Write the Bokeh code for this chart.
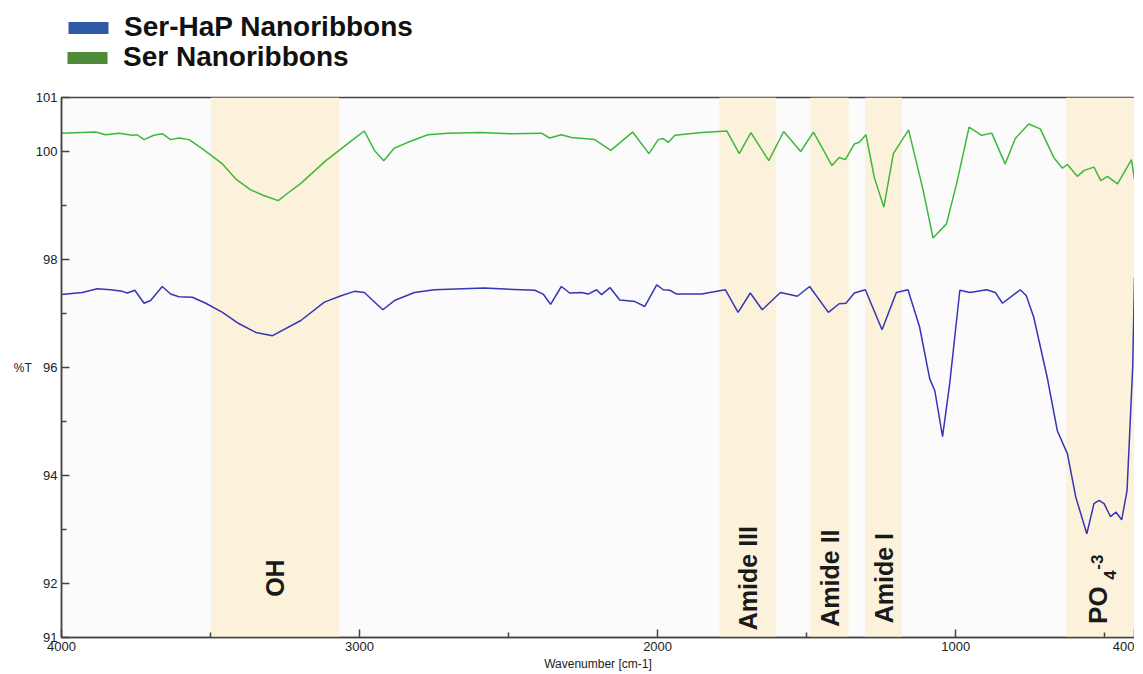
import numpy as np
from bokeh.plotting import figure
from bokeh.layouts import column
from bokeh.models import (Range1d, FixedTicker, BoxAnnotation, Legend, LegendItem,
                          ColumnDataSource)
from bokeh.embed import file_html
from bokeh.resources import INLINE
from bokeh.core.properties import value

# ---------------- data ----------------
ser_wn = [4000, 3886, 3852, 3807, 3762, 3746, 3723, 3690, 3662, 3634, 3606, 3572, 3527,
          3460, 3415, 3365, 3324, 3273, 3236, 3197, 3113, 3062, 3018, 2984, 2950, 2919,
          2884, 2838, 2771, 2704, 2592, 2491, 2390, 2362, 2323, 2289, 2211, 2157, 2084,
          2029, 1998, 1981, 1964, 1942, 1852, 1768, 1726, 1687, 1627, 1577, 1520, 1477,
          1415, 1391, 1370, 1340, 1323, 1301, 1273, 1241, 1209, 1158, 1109, 1076, 1031,
          997, 955, 913, 879, 834, 800, 755, 716, 671, 642, 625, 592, 569, 536, 513, 491,
          457, 410, 400]
ser_t = [100.34, 100.36, 100.31, 100.34, 100.30, 100.31, 100.22, 100.30, 100.33, 100.22,
         100.25, 100.22, 100.05, 99.77, 99.49, 99.29, 99.19, 99.09, 99.25, 99.41, 99.83,
         100.05, 100.24, 100.38, 100.02, 99.83, 100.06, 100.17, 100.31, 100.34, 100.35,
         100.33, 100.34, 100.25, 100.31, 100.26, 100.22, 100.02, 100.36, 99.96, 100.22,
         100.24, 100.17, 100.30, 100.35, 100.38, 99.96, 100.35, 99.83, 100.37, 100.00,
         100.36, 99.74, 99.89, 99.85, 100.14, 100.17, 100.31, 99.52, 98.97, 99.96, 100.40,
         99.28, 98.40, 98.66, 99.40, 100.45, 100.30, 100.34, 99.77, 100.24, 100.51, 100.42,
         99.89, 99.69, 99.76, 99.54, 99.65, 99.71, 99.46, 99.54, 99.40, 99.85, 99.48]

hap_wn = [4000, 3930, 3880, 3835, 3796, 3779, 3754, 3723, 3701, 3662, 3634, 3606, 3561,
          3516, 3460, 3404, 3348, 3292, 3197, 3118, 3062, 3017, 2984, 2922, 2883, 2816,
          2749, 2581, 2412, 2384, 2359, 2323, 2295, 2255, 2233, 2205, 2188, 2160, 2127,
          2076, 2043, 2003, 1981, 1959, 1936, 1852, 1773, 1730, 1689, 1649, 1588, 1531,
          1490, 1427, 1391, 1368, 1340, 1303, 1247, 1199, 1160, 1121, 1087, 1070, 1044,
          1020, 986, 952, 896, 867, 843, 783, 763, 738, 693, 659, 625, 597, 560, 536, 519,
          502, 481, 462, 443, 425, 406, 400]
hap_t = [97.35, 97.39, 97.46, 97.44, 97.41, 97.38, 97.43, 97.19, 97.24, 97.50, 97.36,
         97.31, 97.30, 97.19, 97.02, 96.81, 96.65, 96.59, 96.87, 97.21, 97.33, 97.41,
         97.39, 97.07, 97.24, 97.39, 97.44, 97.47, 97.43, 97.36, 97.17, 97.50, 97.38,
         97.39, 97.36, 97.44, 97.35, 97.48, 97.25, 97.22, 97.13, 97.53, 97.44, 97.43,
         97.36, 97.36, 97.44, 97.02, 97.38, 97.07, 97.39, 97.32, 97.50, 97.02, 97.18,
         97.19, 97.38, 97.44, 96.70, 97.39, 97.44, 96.75, 95.79, 95.57, 94.72, 95.70,
         97.43, 97.39, 97.44, 97.39, 97.19, 97.44, 97.33, 96.93, 95.82, 94.83, 94.40,
         93.60, 92.92, 93.48, 93.54, 93.48, 93.24, 93.32, 93.18, 93.72, 96.01, 97.67]

band_start = [3499, 1793, 1487, 1304, 629]
band_end = [3069, 1602, 1359, 1180, 400]
band_labels = ["OH", "Amide III", "Amide II", "Amide I", "PO"]

series_names = ["Ser-HaP Nanoribbons", "Ser Nanoribbons"]
legend_colors = ["#2f5aa6", "#4e8a3a"]
x_major_ticks = [4000, 3000, 2000, 1000, 400]
x_minor_ticks = [3500, 2500, 1500, 500]
y_major_ticks = [91, 92, 94, 96, 98, 100, 101]
y_minor_ticks = [93, 95, 97, 99]

W = 1134
LEG_H = 88
MAIN_H = 586

# ---------------- legend strip ----------------
lg = figure(width=W, height=LEG_H, output_backend="svg", toolbar_location=None,
            x_range=Range1d(0, 1), y_range=Range1d(0, 1), x_axis_type=None,
            y_axis_type=None, min_border=0, outline_line_color=None)
lg.grid.visible = False
lg.background_fill_color = "white"
lg.border_fill_color = "white"
leg_locs = [(2, 45), (1, 15)]
for name, col, loc in zip(series_names, legend_colors, leg_locs):
    r = lg.quad(left=[np.nan], right=[np.nan], top=[np.nan], bottom=[np.nan],
                fill_color=col, line_color=None)
    lg.add_layout(Legend(items=[LegendItem(label=name, renderers=[r])],
                         location=loc, orientation="vertical",
                         glyph_width=50, glyph_height=15, label_standoff=11, spacing=0,
                         padding=0, margin=0, label_height=30,
                         label_text_font="Liberation Sans", label_text_font_style="bold",
                         label_text_font_size="28px", label_text_color="#111111",
                         border_line_alpha=0, background_fill_alpha=0))

# ---------------- main chart ----------------
p = figure(width=W, height=MAIN_H, output_backend="svg", toolbar_location=None,
           x_range=Range1d(4000, 400), y_range=Range1d(91, 101),
           min_border_left=61, min_border_right=0, min_border_top=9, min_border_bottom=37)
p.background_fill_color = "#fbfbfb"
p.border_fill_color = "white"
p.outline_line_color = "#444444"
p.outline_line_width = 1.5
p.grid.visible = False

BAND = "#fcf2db"
for s, e in zip(band_start, band_end):
    p.add_layout(BoxAnnotation(left=s, right=e, fill_color=BAND, fill_alpha=1.0,
                               line_alpha=0, level="underlay"))

p.line(hap_wn, hap_t, line_color="#3535b5", line_width=1.5)
p.line(ser_wn, ser_t, line_color="#3cb83c", line_width=1.5)

# band labels
label_y = 92.1
centers = [(s + e) / 2 for s, e in zip(band_start, band_end)]
src = ColumnDataSource(dict(x=centers[:4], y=[label_y] * 4, t=band_labels[:4]))
p.text(x="x", y="y", text="t", source=src, angle=np.pi / 2, text_align="center",
       text_baseline="middle", text_font=value("Liberation Sans"),
       text_font_style="bold", text_font_size="25px", text_color="#1a1a1a")
po_x = centers[4]
p.text(x=[po_x], y=[label_y], text=[band_labels[4]], angle=np.pi / 2, text_align="center",
       text_baseline="middle", x_offset=-2, y_offset=27, text_font=value("Liberation Sans"),
       text_font_style="bold", text_font_size="26px", text_color="#1a1a1a")
p.text(x=[po_x], y=[label_y], text=["4"], angle=np.pi / 2, text_align="center",
       text_baseline="middle", x_offset=10, y_offset=-3, text_font=value("Liberation Sans"),
       text_font_style="bold", text_font_size="17px", text_color="#1a1a1a")
p.text(x=[po_x], y=[label_y], text=["-3"], angle=np.pi / 2, text_align="center",
       text_baseline="middle", x_offset=-3, y_offset=-16, text_font=value("Liberation Sans"),
       text_font_style="bold", text_font_size="17px", text_color="#1a1a1a")

# axes
TICK_FONT = "Liberation Sans"
p.xaxis.ticker = FixedTicker(ticks=x_major_ticks, minor_ticks=x_minor_ticks)
p.yaxis.ticker = FixedTicker(ticks=y_major_ticks, minor_ticks=y_minor_ticks)
for ax in (p.xaxis, p.yaxis):
    ax.axis_line_color = "#444444"
    ax.axis_line_width = 1.5
    ax.major_tick_in = 8
    ax.major_tick_out = 0
    ax.minor_tick_in = 5
    ax.minor_tick_out = 0
    ax.major_tick_line_color = "#444444"
    ax.minor_tick_line_color = "#444444"
    ax.major_tick_line_width = 1.5
    ax.minor_tick_line_width = 1.5
    ax.major_label_text_font = TICK_FONT
    ax.major_label_text_font_size = "13px"
    ax.major_label_text_color = "#222222"
    ax.axis_label_text_font = TICK_FONT
    ax.axis_label_text_font_size = "12px"
    ax.axis_label_text_font_style = "normal"
    ax.axis_label_text_color = "#222222"
p.xaxis.axis_label = "Wavenumber [cm-1]"
p.xaxis.major_label_standoff = 4
p.xaxis.axis_label_standoff = 3
p.yaxis.axis_label = "%T"
p.yaxis.axis_label_orientation = "horizontal"
p.yaxis.major_label_standoff = 4
p.yaxis.axis_label_standoff = 1

open("out.html", "w").write(file_html(column(lg, p, spacing=0), INLINE))
